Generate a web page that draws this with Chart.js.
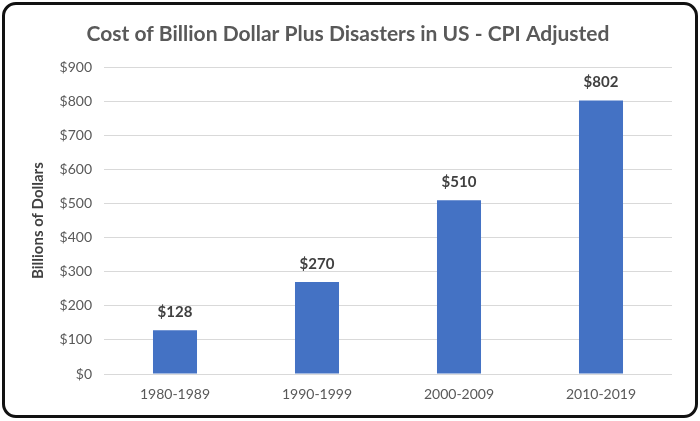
<!DOCTYPE html>
<html>
<head>
<meta charset="utf-8">
<script src="https://cdn.jsdelivr.net/npm/chart.js@4/dist/chart.umd.min.js"></script>
<style>
  html, body { margin: 0; padding: 0; background: #fff; }
  #frame {
    position: absolute; left: 2px; top: 2px;
    width: 690px; height: 410px;
    border: 3px solid #111; border-radius: 14px;
    overflow: hidden; background: #fff;
  }
  canvas { display: block; }
</style>
</head>
<body>
<div id="frame"><canvas id="chart" width="690" height="410"></canvas></div>
<script>
// data
const decades = ['1980-1989', '1990-1999', '2000-2009', '2010-2019'];
const costs = [128, 270, 510, 802];
const yTicks = [0, 100, 200, 300, 400, 500, 600, 700, 800, 900];

const FONT = 'Lato, "Open Sans", sans-serif';
const TXT = '#595959';

// value labels above bars
const valueLabels = {
  id: 'valueLabels',
  afterDatasetsDraw(chart) {
    const ctx = chart.ctx;
    const meta = chart.getDatasetMeta(0);
    ctx.save();
    ctx.font = 'bold 15px ' + FONT;
    ctx.fillStyle = '#404040';
    ctx.textAlign = 'center';
    ctx.textBaseline = 'middle';
    meta.data.forEach((bar, i) => {
      ctx.fillText('$' + costs[i], bar.x, bar.y - 18);
    });
    ctx.restore();
  }
};

new Chart(document.getElementById('chart'), {
  type: 'bar',
  data: {
    labels: decades,
    datasets: [{
      data: costs,
      backgroundColor: '#4472C4',
      categoryPercentage: 1,
      barPercentage: 0.31,
    }]
  },
  options: {
    responsive: false,
    animation: false,
    layout: { padding: { left: 19, right: 23, top: 0, bottom: 0 } },
    plugins: {
      legend: { display: false },
      tooltip: { enabled: false },
      title: {
        display: true,
        text: 'Cost of Billion Dollar Plus Disasters in US - CPI Adjusted',
        color: TXT,
        font: { family: FONT, size: 21, weight: 'bold' },
        padding: { top: 17, bottom: 20 },
      }
    },
    scales: {
      x: {
        grid: { display: false, drawTicks: false },
        border: { display: false },
        ticks: { color: TXT, font: { family: FONT, size: 14 }, padding: 12 },
        afterFit: s => { s.height = 41; },
      },
      y: {
        min: 0, max: 900,
        afterBuildTicks: s => { s.ticks = yTicks.map(v => ({ value: v })); },
        grid: { color: '#d9d9d9', lineWidth: 1, drawTicks: false },
        border: { display: false },
        ticks: {
          color: TXT, font: { family: FONT, size: 14 }, padding: 12,
          callback: v => '$' + v,
        },
        title: {
          display: true, text: 'Billions of Dollars', color: '#404040',
          font: { family: FONT, size: 15, weight: 'bold' },
          padding: { top: 5, bottom: 0 },
        },
        afterFit: s => { s.width = 80; },
      }
    }
  },
  plugins: [valueLabels]
});
</script>
</body>
</html>
